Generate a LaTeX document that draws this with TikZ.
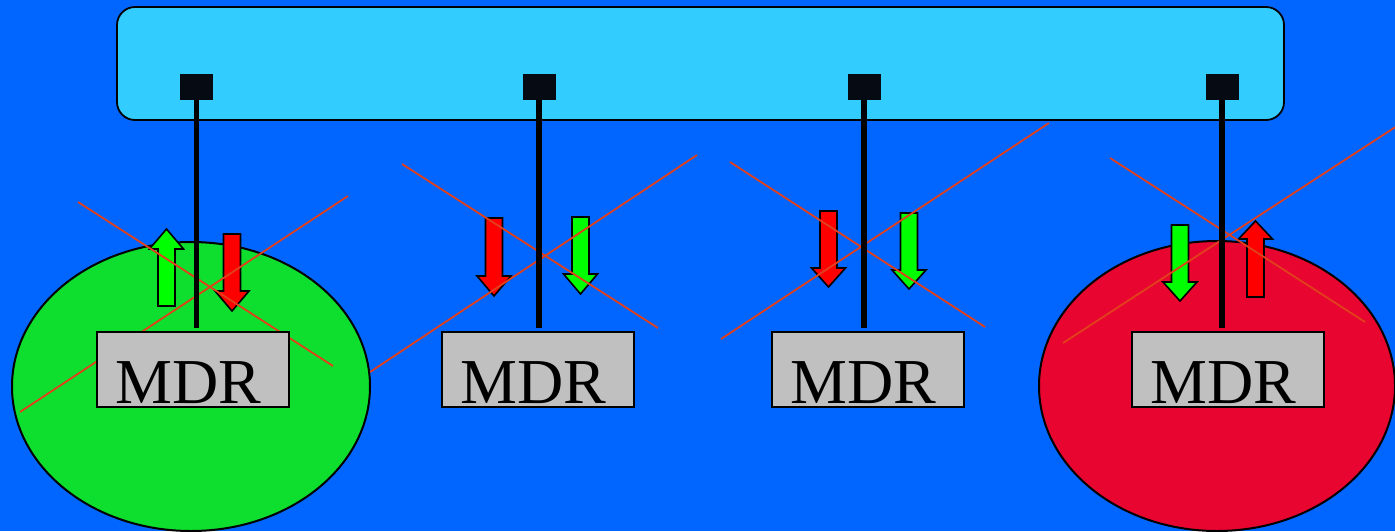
\documentclass[tikz,border=0pt]{standalone}
\usepackage{fontspec}
\setmainfont{Liberation Serif}
\usetikzlibrary{positioning, calc}

\definecolor{bgblue}{HTML}{0066FF}
\definecolor{busblue}{HTML}{33CCFF}
\definecolor{portblack}{HTML}{060A12}
\definecolor{zonegreen}{HTML}{0EDF2E}
\definecolor{zonered}{HTML}{E80530}
\definecolor{crossred}{HTML}{E2401C}
\definecolor{mdrgray}{HTML}{C0C0C0}

\begin{document}
\begin{tikzpicture}[x=0.5pt, y=-0.5pt,
    port/.style={rectangle, fill=portblack, minimum width=16.5pt, minimum height=13pt, inner sep=0pt},
    mdr/.style={rectangle, draw=black, line width=1pt, fill=mdrgray, minimum width=96pt,
                minimum height=37.5pt, inner sep=0pt, text height=33.5pt, text depth=0pt,
                font=\fontsize{32}{32}\selectfont, execute at begin node={\kern-4.5pt}},
    wire/.style={line width=2.6pt, shorten >=1.5pt},
    cross/.style={crossred, line width=0.9pt},
    blockarrow/.style={draw=black, line width=0.8pt}]
    \useasboundingbox (0,0) rectangle (1395,531);
    \clip (0,0) rectangle (1395,531);
    \fill[bgblue] (0,0) rectangle (1395,531);
    % bus
    \draw[fill=busblue, line width=0.9pt, rounded corners=9pt] (117,7) rectangle (1284,120);
    \node[port] (p1) at (196.5,87) {};
    \node[port] (p2) at (539,87) {};
    \node[port] (p3) at (864,87) {};
    \node[port] (p4) at (1222,87) {};
    % zones
    \draw[fill=zonegreen, line width=1pt] (191,386.5) ellipse [x radius=179, y radius=144.5];
    \draw[fill=zonered, line width=1pt] (1217,386) ellipse [x radius=178, y radius=145];
    % flows
    \foreach \x/\t/\h/\p/\c in {232/234/291/311/red, 166.5/306/249/229/green,
                                494/218/276/296/red, 580.5/217/274/294/green,
                                828.5/211/268/287/red, 909/213/270/289/green,
                                1180/225/282/301/green, 1255.5/297/239/221/red} {
      \draw[blockarrow, fill=\c] ({\x-8.5},\t) -- ({\x-8.5},\h) -- ({\x-17},\h) -- (\x,\p)
        -- ({\x+17},\h) -- ({\x+8.5},\h) -- ({\x+8.5},\t) -- cycle;
    }
    \foreach \ax/\ay/\bx/\by in {78/202/333/366, 348/196/20/412,
                                 402/164/658/328, 697/155/370/372,
                                 730/162/985/327, 1049/123/721/339,
                                 1110/158/1365/322, 1400/124/1063/343} {
      \draw[cross] (\ax,\ay) -- (\bx,\by);
    }
    % repeaters
    \node[mdr] (m1) at (193,369.5) {MDR};
    \node[mdr] (m2) at (538,369.5) {MDR};
    \node[mdr] (m3) at (868,369.5) {MDR};
    \node[mdr] (m4) at (1228,369.5) {MDR};
    \foreach \i in {1,...,4}
      \draw[wire] (p\i.south) -- (p\i.south |- m\i.north);
\end{tikzpicture}
\end{document}
